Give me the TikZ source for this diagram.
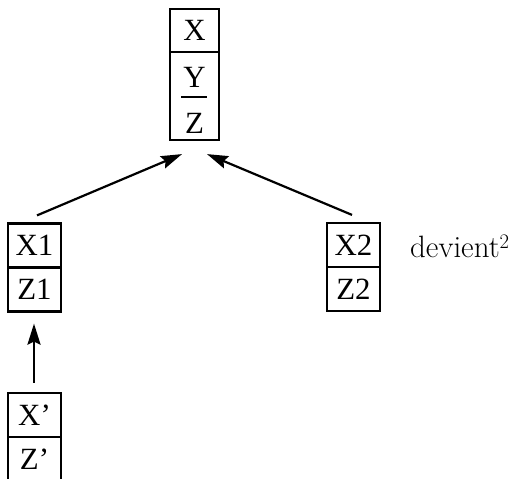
\documentclass[tikz,border=0pt]{standalone}
\usepackage{fontspec}
\newfontfamily\boxfont{Liberation Serif}
\usetikzlibrary{arrows.meta}
\begin{document}
\begin{tikzpicture}[x=1bp,y=-1bp,
  cell/.style={draw,line width=2.2bp,inner sep=0pt,minimum width=53bp,minimum height=44bp,
    font=\boxfont\fontsize{31}{36}\selectfont},
  txt/.style={inner sep=0pt,font=\boxfont\fontsize{31}{36}\selectfont},
  arr/.style={line width=2.2bp,-{Stealth[length=21bp,width=13bp,inset=3bp]}}]
\clip (0,0) rectangle (517,479);
\fill[white] (0,0) rectangle (517,479);
% top box
\node[cell,minimum width=49bp,minimum height=43bp] (tX) at (194.5,30.5) {X};
\node[cell,minimum width=49bp,minimum height=88bp] (tYZ) at (194.5,96) {};
\node[txt] (tY) at (194.5,77) {Y};
\node[txt] (tZ) at (194.5,123) {Z};
\draw[line width=2.2bp] (181,97) -- (207,97);
% left boxes
\node[cell] (x1) at (34.5,245.5) {X1};
\node[cell] (z1) at (34.5,289.5) {Z1};
\node[cell] (x2) at (353.5,245) {X2};
\node[cell] (z2) at (353.5,289) {Z2};
\node[cell] (xp) at (34.5,415) {X’};
\node[cell] (zp) at (34.5,459) {Z’};
\node[anchor=base west,inner sep=0pt,font=\fontsize{31}{37}\selectfont] (dev) at (410,257) {devient$^2$};
% arrows
\draw[arr] ([shift={(2.5,-7)}]x1.north) -- ([shift={(-12.5,13)}]tYZ.south);
\draw[arr] ([shift={(-1.5,-7)}]x2.north) -- ([shift={(12.5,13)}]tYZ.south);
\draw[arr] ([shift={(-0.5,-9)}]xp.north) -- ([shift={(-0.5,11)}]z1.south);
\end{tikzpicture}
\end{document}
